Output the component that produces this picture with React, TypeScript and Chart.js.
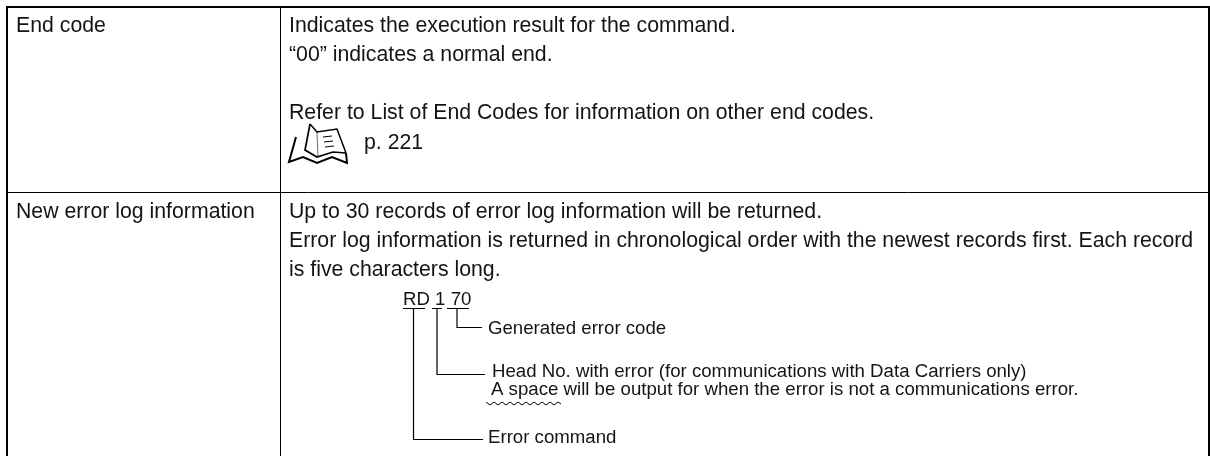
import React, { useEffect, useRef } from "react";
import { Chart, registerables } from "chart.js";

Chart.register(...registerables);

const WIDTH = 1210;
const HEIGHT = 456;
const BODY = 21.27;
const NOTE = 18.65;

const tableBorders = [
  { w: 2, pts: [[7, 456], [7, 7], [1209, 7], [1209, 456]] },
  { w: 1, pts: [[280.5, 7], [280.5, 456]] },
  { w: 1, pts: [[7, 192.5], [1209, 192.5]] },
];
const connectors = [
  { w: 1, pts: [[403, 308.5], [425, 308.5]] },
  { w: 1, pts: [[432, 308.5], [442, 308.5]] },
  { w: 1, pts: [[447, 308.5], [469, 308.5]] },
  { w: 1.2, pts: [[457, 308], [457, 327.5], [482, 327.5]] },
  { w: 1.2, pts: [[437, 308], [437, 374.5], [485, 374.5]] },
  { w: 1.2, pts: [[413.5, 308], [413.5, 439.5], [483, 439.5]] },
];
const squiggle = [
  { w: 1, pts: [[486, 402], [490, 405], [494, 402], [498, 405], [502, 402], [506, 405], [510, 402], [514, 405], [518, 402], [522, 405], [526, 402], [530, 405], [534, 402], [538, 405], [542, 402], [546, 405], [550, 402], [554, 405], [558, 402], [561, 404]] },
];
const bookIcon = [
  { w: 2, pts: [[296, 137], [289, 162], [303, 157], [317, 163], [332, 157], [347, 163], [346, 153]] },
  { w: 1.7, pts: [[310, 124], [305, 150], [317, 157], [333, 152], [346, 153]] },
  { w: 1.5, pts: [[310, 124], [317, 132], [337, 129], [346, 153]] },
  { w: 0.6, pts: [[317, 132], [318, 157]] },
  { w: 1, pts: [[323, 137], [332, 136]] },
  { w: 1, pts: [[324, 142], [333, 141]] },
  { w: 1, pts: [[325, 147], [334, 146]] },
];
const bodyText = [
  { t: "End code", x: 16, y: 32, s: BODY },
  { t: "New error log information", x: 16, y: 218, s: BODY },
  { t: "Indicates the execution result for the command.", x: 289, y: 32, s: BODY },
  { t: "“00” indicates a normal end.", x: 289, y: 61, s: BODY },
  { t: "Refer to List of End Codes for information on other end codes.", x: 289, y: 119, s: BODY },
  { t: "p. 221", x: 364, y: 149, s: BODY },
  { t: "Up to 30 records of error log information will be returned.", x: 289, y: 218, s: BODY },
  { t: "Error log information is returned in chronological order with the newest records first. Each record", x: 289, y: 247, s: BODY },
  { t: "is five characters long.", x: 289, y: 276, s: BODY },
  { t: "RD 1 70", x: 403, y: 305, s: NOTE },
  { t: "Generated error code", x: 488, y: 334, s: NOTE },
  { t: "Head No. with error (for communications with Data Carriers only)", x: 492, y: 377, s: NOTE },
  { t: "A space will be output for when the error is not a communications error.", x: 491, y: 395, s: NOTE },
  { t: "Error command", x: 488, y: 443, s: NOTE },
];

const shapes = [...tableBorders, ...connectors, ...squiggle, ...bookIcon];

export default function App() {
  const ref = useRef<HTMLCanvasElement>(null);
  useEffect(() => {
    document.body.style.margin = "0";
    document.body.style.background = "#fff";
    const textPlugin = {
      id: "cellText",
      afterDatasetsDraw(chart: any) {
        const { ctx, scales } = chart;
        ctx.save();
        ctx.fillStyle = "#141414";
        ctx.textBaseline = "alphabetic";
        for (const row of bodyText) {
          ctx.font = `${row.s}px "Liberation Sans", Arial, sans-serif`;
          ctx.fillText(row.t, scales.x.getPixelForValue(row.x), scales.y.getPixelForValue(row.y));
        }
        ctx.restore();
      },
    };
    const chart = new Chart(ref.current!, {
      type: "scatter",
      data: {
        datasets: shapes.map((s) => ({
          data: s.pts.map(([x, y]) => ({ x, y })),
          showLine: true,
          borderColor: "#000",
          borderWidth: s.w,
          pointRadius: 0,
          tension: 0,
          fill: false,
          clip: false,
        })),
      },
      options: {
        animation: false,
        responsive: false,
        maintainAspectRatio: false,
        layout: { padding: 0 },
        plugins: { legend: { display: false }, title: { display: false }, tooltip: { enabled: false } },
        scales: {
          x: { type: "linear", min: 0, max: WIDTH, display: false },
          y: { type: "linear", min: 0, max: HEIGHT, reverse: true, display: false },
        },
      },
      plugins: [textPlugin],
    });
    return () => chart.destroy();
  }, []);
  return <canvas ref={ref} width={WIDTH} height={HEIGHT} style={{ display: "block" }} />;
}
